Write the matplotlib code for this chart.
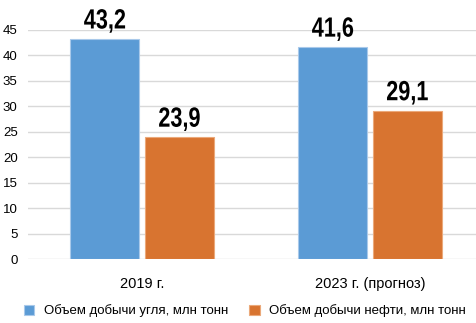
import matplotlib.pyplot as plt
import numpy as np
from matplotlib.textpath import TextPath
from matplotlib.patches import PathPatch
from matplotlib.font_manager import FontProperties
from matplotlib.transforms import Affine2D, ScaledTranslation

# Data
categories = ['2019 г.', '2023 г. (прогноз)']
coal = [43.2, 41.6]
oil = [23.9, 29.1]
series_names = ['Объем добычи угля, млн тонн', 'Объем добычи нефти, млн тонн']

blue = '#5B9BD5'
orange = '#D87430'

plt.rcParams['font.family'] = ['Liberation Sans', 'DejaVu Sans']

fig = plt.figure(figsize=(4.77, 3.23), dpi=100)
ax = fig.add_axes([28 / 477, 1 - 259 / 323, 456 / 477, 229 / 323])

x = np.arange(len(categories))
w = 0.30
off = 0.164
b1 = ax.bar(x - off, coal, w, color=blue, edgecolor='#a9c9ea', linewidth=0.8,
            label=series_names[0], zorder=3)
b2 = ax.bar(x + off, oil, w, color=orange, edgecolor='#eba97a', linewidth=0.8,
            label=series_names[1], zorder=3)

# value labels: bold text squeezed horizontally to look like a narrow face
label_font = FontProperties(family='Liberation Sans', weight='bold')
label_size = 20
squeeze = 0.78
for bars in (b1, b2):
    for rect in bars:
        h = rect.get_height()
        tp = TextPath((0, 0), f'{h:.1f}'.replace('.', ','), size=label_size,
                      prop=label_font)
        ext = tp.get_extents()
        k = fig.dpi / 72
        tr = (Affine2D().translate(-(ext.x0 + ext.x1) / 2, 0)
              .scale(squeeze * k, k)
              + ScaledTranslation(rect.get_x() + rect.get_width() / 2, h + 2.1,
                                  ax.transData))
        ax.add_artist(PathPatch(tp, transform=tr, color='black', lw=0,
                                clip_on=False, zorder=5))

ax.set_xlim(-0.5, 1.5)
ax.set_ylim(0, 45)
ax.set_yticks(range(0, 50, 5))
ax.set_xticks(x)
ax.set_xticklabels(categories, fontsize=10.5)
ax.tick_params(axis='y', labelsize=9.5, length=0, pad=7.5)
ax.tick_params(axis='x', length=0, pad=13)
ax.grid(axis='y', color='#d9d9d9', linewidth=1, zorder=0)
for s in ax.spines.values():
    s.set_visible(False)

fig.legend(handles=[b1, b2], labels=series_names, loc='center',
           bbox_to_anchor=(245 / 477, 1 - 311 / 323), ncol=2, frameon=False,
           fontsize=9.5, handlelength=0.8, handleheight=0.8,
           handletextpad=0.75, columnspacing=1.55)

fig.savefig('out.png', dpi=100)
